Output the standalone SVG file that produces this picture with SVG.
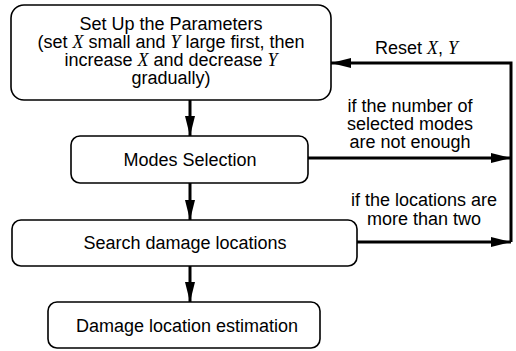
<svg xmlns="http://www.w3.org/2000/svg" width="516" height="351" viewBox="0 0 516 351">
<defs>
<style>
.box{fill:#fff;stroke:#000;stroke-width:1.6}
.t{font-family:"Liberation Sans",Arial,sans-serif;font-size:18px;fill:#000}
.m{text-anchor:middle}
.v{font-family:"Liberation Serif","Times New Roman",serif;font-style:italic}
.c{fill:none;stroke:#000;stroke-width:3}
</style>
<marker id="ah" viewBox="0 0 20 10" refX="20" refY="5" markerWidth="20" markerHeight="10" markerUnits="userSpaceOnUse" orient="auto">
<path d="M0,0 L20,5 L0,10 Z" fill="#000"/>
</marker>
</defs>
<rect width="516" height="351" fill="#fff"/>
<g id="connectors">
<line class="c" x1="190" y1="100" x2="190" y2="136" marker-end="url(#ah)"/>
<line class="c" x1="190" y1="183" x2="190" y2="220" marker-end="url(#ah)"/>
<line class="c" x1="190" y1="266" x2="190" y2="302" marker-end="url(#ah)"/>
<line class="c" x1="308" y1="158" x2="511" y2="158" marker-end="url(#ah)"/>
<line class="c" x1="357" y1="242" x2="511" y2="242" marker-end="url(#ah)"/>
<polyline class="c" points="511,242 511,63 331,63" marker-end="url(#ah)"/>
<text class="t" x="375" y="54">Reset <tspan class="v">X</tspan>, <tspan class="v">Y</tspan></text>
<text class="t m" x="410" y="112">if the number of</text>
<text class="t m" x="410" y="130">selected modes</text>
<text class="t m" x="410" y="148">are not enough</text>
<text class="t m" x="424" y="206">if the locations are</text>
<text class="t m" x="424" y="225">more than two</text>
</g>
<g id="node-setup">
<rect class="box" x="11" y="5" width="320" height="95" rx="13"/>
<text class="t m" x="171" y="30">Set Up the Parameters</text>
<text class="t m" x="171" y="48">(set <tspan class="v">X</tspan> small and <tspan class="v">Y</tspan> large first, then</text>
<text class="t m" x="171" y="66">increase <tspan class="v">X</tspan> and decrease <tspan class="v">Y</tspan></text>
<text class="t m" x="171" y="84">gradually)</text>
</g>
<g id="node-modes">
<rect class="box" x="71" y="136" width="237" height="47" rx="9"/>
<text class="t m" x="190" y="166">Modes Selection</text>
</g>
<g id="node-search">
<rect class="box" x="12" y="220" width="345" height="46" rx="9"/>
<text class="t m" x="185" y="249">Search damage locations</text>
</g>
<g id="node-estimate">
<rect class="box" x="48" y="302" width="272" height="46" rx="9"/>
<text class="t m" x="187" y="332">Damage location estimation</text>
</g>
</svg>
